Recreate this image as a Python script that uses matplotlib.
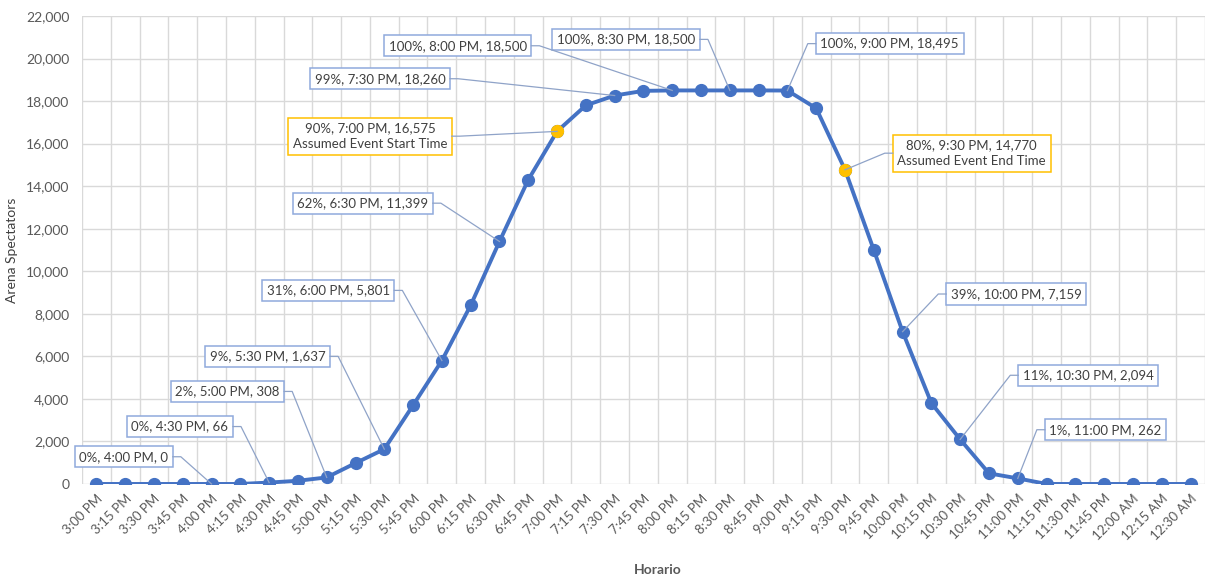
import matplotlib
matplotlib.use("Agg")
import matplotlib.pyplot as plt
from matplotlib.lines import Line2D
from matplotlib.transforms import IdentityTransform

plt.rcParams['font.family'] = ['Lato', 'DejaVu Sans']

times = ["3:00 PM", "3:15 PM", "3:30 PM", "3:45 PM", "4:00 PM", "4:15 PM", "4:30 PM",
         "4:45 PM", "5:00 PM", "5:15 PM", "5:30 PM", "5:45 PM", "6:00 PM", "6:15 PM",
         "6:30 PM", "6:45 PM", "7:00 PM", "7:15 PM", "7:30 PM", "7:45 PM", "8:00 PM",
         "8:15 PM", "8:30 PM", "8:45 PM", "9:00 PM", "9:15 PM", "9:30 PM", "9:45 PM",
         "10:00 PM", "10:15 PM", "10:30 PM", "10:45 PM", "11:00 PM", "11:15 PM",
         "11:30 PM", "11:45 PM", "12:00 AM", "12:15 AM", "12:30 AM"]
spectators = [0, 0, 0, 0, 0, 0, 66, 150, 308, 980, 1637, 3700, 5801, 8400, 11399, 14300,
              16575, 17800, 18260, 18480, 18500, 18500, 18500, 18500, 18495, 17660, 14770,
              11000, 7159, 3800, 2094, 500, 262, 0, 0, 0, 0, 0, 0]
capacity = 18500

# labelled points: (index, extra line, box position in data units, side of the leader)
labelled = [
    (4, None, (0.95, 1280), "right"),
    (6, None, (2.9, 2700), "right"),
    (8, None, (4.55, 4350), "right"),
    (10, None, (5.95, 6000), "right"),
    (12, None, (8.05, 9100), "right"),
    (14, None, (9.25, 13200), "right"),
    (16, "Assumed Event Start Time", (9.5, 16350), "right"),
    (18, None, (9.85, 19050), "right"),
    (20, None, (12.55, 20600), "right"),
    (22, None, (18.4, 20900), "right"),
    (24, None, (27.55, 20700), "left"),
    (26, "Assumed Event End Time", (30.4, 15550), "left"),
    (28, None, (31.95, 8930), "left"),
    (30, None, (34.45, 5110), "left"),
    (32, None, (35.05, 2550), "left"),
]
highlight = [16, 26]

line_color = "#4472C4"
gold = "#FFC000"
box_blue = "#8FAADC"
leader_color = "#8FA3C8"
text_color = "#404040"
tick_color = "#595959"

fig = plt.figure(figsize=(12.07, 5.81), dpi=100)
ax = fig.add_axes([0.0679, 0.167, 0.9304, 0.8055])

x = list(range(len(times)))
ax.plot(x, spectators, color=line_color, lw=2.8, marker="o", ms=8.5,
        markerfacecolor=line_color, markeredgecolor=line_color, zorder=3)
ax.plot(highlight, [spectators[i] for i in highlight], ls="none", marker="o", ms=8.5,
        markerfacecolor=gold, markeredgecolor=gold, zorder=4)

ax.set_xlim(-0.5, len(times) - 0.5)
ax.set_ylim(0, 22000)
ax.set_yticks(range(0, 22001, 2000))
ax.set_yticklabels([f"{v:,}" for v in range(0, 22001, 2000)], fontsize=10, color=tick_color)
ax.set_xticks(x)
ax.set_xticklabels(times, rotation=45, ha="right", rotation_mode="anchor",
                   fontsize=9.5, color=tick_color)
ax.set_xticks([i - 0.5 for i in range(len(times) + 1)], minor=True)
ax.tick_params(axis="both", which="both", length=0)
ax.tick_params(axis="x", pad=6)
ax.tick_params(axis="y", pad=9)
ax.grid(True, which="minor", axis="x", color="#D9D9D9", lw=1)
ax.grid(True, which="major", axis="y", color="#D9D9D9", lw=1)
ax.grid(False, which="major", axis="x")
ax.set_axisbelow(True)
for s in ax.spines.values():
    s.set_visible(False)

ax.set_ylabel("Arena Spectators", fontsize=10, color=text_color, labelpad=6)
fig.text(0.545, 0.008, "Horario", ha="center", va="bottom", fontsize=10,
         color=tick_color, fontweight="bold")

texts = []
for idx, extra, (tx, ty), side in labelled:
    pct = round(spectators[idx] / capacity * 100)
    label = f"{pct}%, {times[idx]}, {spectators[idx]:,}"
    edge = box_blue
    if extra:
        label = label + "\n" + extra
        edge = gold
    t = ax.text(tx, ty, label, ha="center", va="center", fontsize=9.5, color=text_color,
                linespacing=1.35, zorder=5,
                bbox=dict(boxstyle="square,pad=0.35", fc="white", ec=edge, lw=1.1))
    texts.append((t, idx, side))

fig.canvas.draw()
renderer = fig.canvas.get_renderer()
for t, idx, side in texts:
    bb = t.get_bbox_patch().get_window_extent(renderer)
    ym = (bb.y0 + bb.y1) / 2
    if side == "right":
        x0, x1 = bb.x1, bb.x1 + 8
    else:
        x0, x1 = bb.x0, bb.x0 - 8
    px, py = ax.transData.transform((idx, spectators[idx]))
    fig.add_artist(Line2D([x0, x1, px], [ym, ym, py], transform=IdentityTransform(),
                          color=leader_color, lw=0.9, zorder=2))

fig.savefig("out.png", dpi=100, facecolor="white")
